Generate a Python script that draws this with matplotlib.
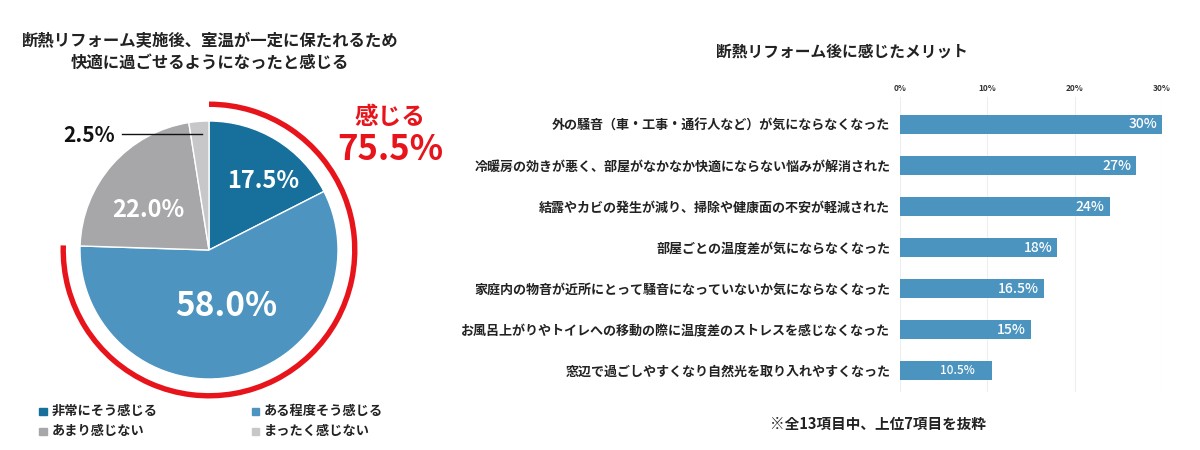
import matplotlib
matplotlib.use("Agg")
import matplotlib.pyplot as plt
from matplotlib.patches import Arc, Rectangle

plt.rcParams['font.family'] = ['Noto Sans CJK JP', 'DejaVu Sans']

# ---------------- data ----------------
pie_title = "断熱リフォーム実施後、室温が一定に保たれるため\n快適に過ごせるようになったと感じる"
pie_labels = ["非常にそう感じる", "ある程度そう感じる", "あまり感じない", "まったく感じない"]
pie_values = [17.5, 58.0, 22.0, 2.5]
pie_colors = ["#17709c", "#4e94c0", "#a7a7a9", "#c7c7c9"]
feel_label = "感じる"

bar_title = "断熱リフォーム後に感じたメリット"
bar_categories = [
    "外の騒音（車・工事・通行人など）が気にならなくなった",
    "冷暖房の効きが悪く、部屋がなかなか快適にならない悩みが解消された",
    "結露やカビの発生が減り、掃除や健康面の不安が軽減された",
    "部屋ごとの温度差が気にならなくなった",
    "家庭内の物音が近所にとって騒音になっていないか気にならなくなった",
    "お風呂上がりやトイレへの移動の際に温度差のストレスを感じなくなった",
    "窓辺で過ごしやすくなり自然光を取り入れやすくなった",
]
bar_values = [30, 27, 24, 18, 16.5, 15, 10.5]
bar_value_labels = ["30%", "27%", "24%", "18%", "16.5%", "15%", "10.5%"]
x_ticks = [0, 10, 20, 30]
x_tick_labels = ["0%", "10%", "20%", "30%"]
footnote = "※全13項目中、上位7項目を抜粋"

# ---------------- layout helpers ----------------
W, H = 1200, 450
fig = plt.figure(figsize=(W / 100, H / 100), dpi=100, facecolor="white")


def box(l, t, r, b):
    return [l / W, 1 - b / H, (r - l) / W, (b - t) / H]


def fx(x):
    return x / W


def fy(y):
    return 1 - y / H


RED = "#e8141c"
DARK = "#222222"

# ---------------- pie ----------------
cx, cy, R, L = 209, 250, 129, 1.2
axp = fig.add_axes(box(cx - R * L, cy - R * L, cx + R * L, cy + R * L))
axp.pie(pie_values, colors=pie_colors, startangle=90, counterclock=False,
        radius=1, wedgeprops=dict(edgecolor="white", linewidth=1.0))
feel_total = pie_values[0] + pie_values[1]
arc = Arc((0, 0), 2 * 1.13, 2 * 1.13, theta1=90 - 360 * feel_total / 100,
          theta2=90, color=RED, lw=3.9)
axp.add_patch(arc)
axp.set_xlim(-L, L)
axp.set_ylim(-L, L)
axp.set_aspect("equal")
axp.axis("off")

fig.text(fx(210), fy(52), pie_title, ha="center", va="center",
         fontsize=11.8, fontweight="bold", color=DARK, linespacing=1.25)

# pie value labels
fig.text(fx(263), fy(181), f"{pie_values[0]:.1f}%", ha="center", va="center",
         fontsize=17, fontweight="bold", color="white")
fig.text(fx(226), fy(306), f"{pie_values[1]:.1f}%", ha="center", va="center",
         fontsize=24, fontweight="bold", color="white")
fig.text(fx(148), fy(210), f"{pie_values[2]:.1f}%", ha="center", va="center",
         fontsize=17, fontweight="bold", color="white")
fig.text(fx(89), fy(135), f"{pie_values[3]:.1f}%", ha="center", va="center",
         fontsize=15, fontweight="bold", color="#111111")
fig.add_artist(plt.Line2D([fx(122), fx(202)], [fy(134), fy(134)],
                          color="#111111", lw=1.0))

fig.text(fx(390), fy(117), feel_label, ha="center", va="center",
         fontsize=17, fontweight="bold", color=RED)
fig.text(fx(390), fy(150), f"{feel_total:.1f}%", ha="center", va="center",
         fontsize=25, fontweight="bold", color=RED)

# legend
leg_pos = [(43, 411), (255, 411), (43, 431), (255, 431)]
for (lx, ly), lab, col in zip(leg_pos, pie_labels, pie_colors):
    s = 7
    fig.add_artist(Rectangle((fx(lx - s / 2), fy(ly + s / 2)), s / W, s / H,
                             transform=fig.transFigure, color=col))
    fig.text(fx(lx + 9), fy(ly), lab, ha="left", va="center",
             fontsize=9.5, fontweight="bold", color=DARK)

# ---------------- bars ----------------
axb = fig.add_axes(box(900, 97, 1162, 392))
n = len(bar_values)
ys = list(range(n))
axb.barh(ys, bar_values, height=0.46, color="#4b94bf", zorder=2)
axb.set_xlim(0, 30)
axb.set_ylim(6.52, -0.67)
axb.set_xticks(x_ticks)
axb.set_xticklabels(x_tick_labels, fontsize=6, fontweight="bold", color="#333333")
axb.xaxis.tick_top()
axb.tick_params(axis="x", length=0, pad=3)
axb.set_yticks(ys)
axb.set_yticklabels(bar_categories, fontsize=9.4, fontweight="bold", color=DARK)
axb.tick_params(axis="y", length=0, pad=7)
axb.grid(axis="x", color="#eeeeee", lw=0.8, zorder=0)
for s in axb.spines.values():
    s.set_visible(False)

for i, (v, lab) in enumerate(zip(bar_values, bar_value_labels)):
    small = v < 12
    off = 1.9 if small else 0.55
    axb.text(v - off, i, lab, ha="right", va="center",
             fontsize=8.5 if small else 10, fontweight="medium", color="white",
             zorder=3)

fig.text(fx(842), fy(52), bar_title, ha="center", va="center",
         fontsize=11.3, fontweight="bold", color=DARK)
fig.text(fx(878), fy(424), footnote, ha="center", va="center",
         fontsize=10.5, fontweight="bold", color=DARK)

fig.savefig("out.png", dpi=100, facecolor="white")
